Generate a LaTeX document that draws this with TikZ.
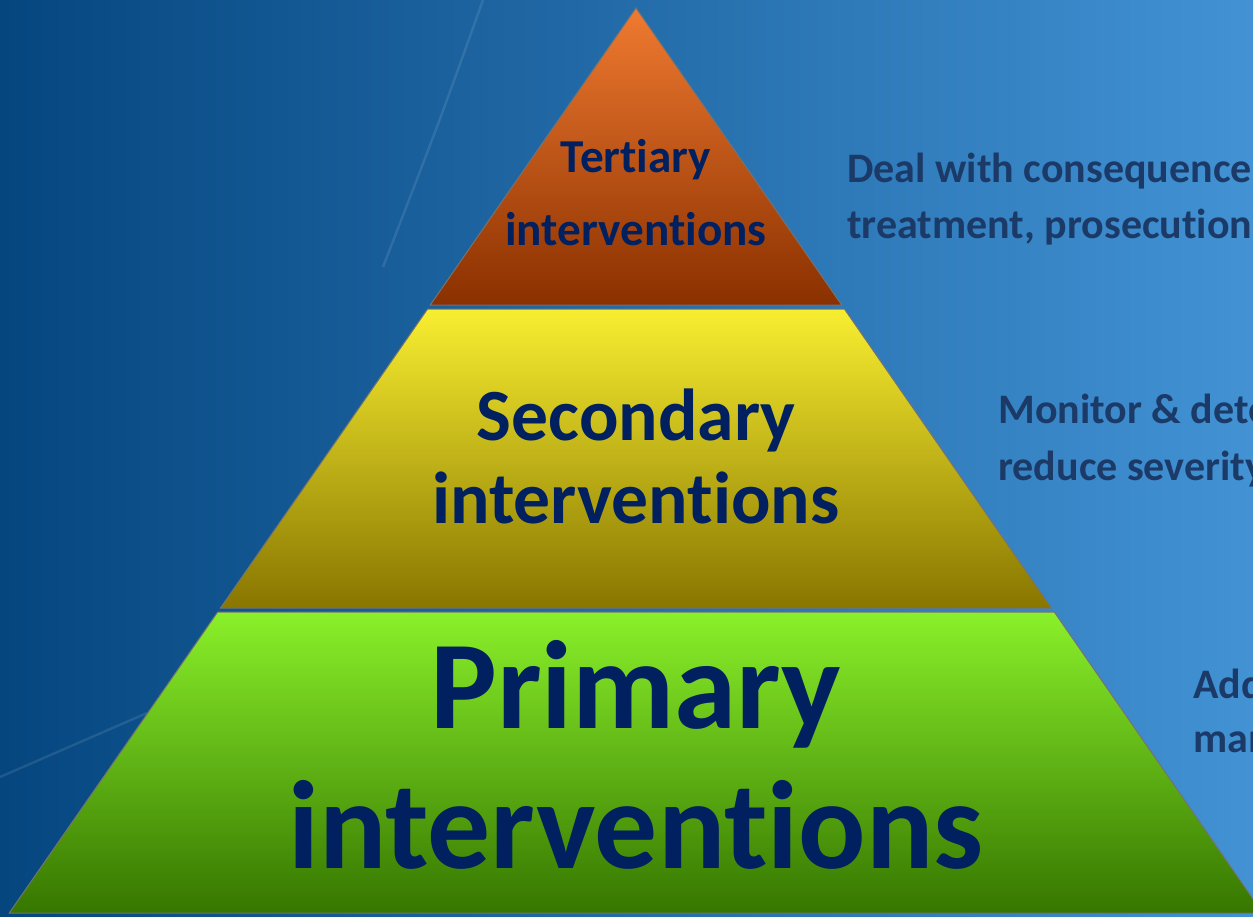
\documentclass[tikz,border=0pt]{standalone}
\usepackage{fontspec}
\setmainfont{Carlito}[Ligatures={NoCommon,NoRequired,NoContextual}]
\usepackage{xcolor}
\definecolor{bgdark}{HTML}{05467F}
\definecolor{bgmid}{HTML}{125C9E}
\definecolor{bglight}{HTML}{4292D4}
\definecolor{tertTop}{HTML}{F07A30}
\definecolor{tertBot}{HTML}{8A3000}
\definecolor{secTop}{HTML}{F8EE30}
\definecolor{secBot}{HTML}{887600}
\definecolor{primTop}{HTML}{8AF02A}
\definecolor{primBot}{HTML}{367600}
\definecolor{tiertext}{HTML}{002060}
\definecolor{sidetext}{HTML}{1B3A68}

\begin{document}
\begin{tikzpicture}[x=0.5pt,y=-0.5pt,
    tier/.style = {draw=black!55,line width=0.5pt},
    tierlabel/.style = {text=tiertext,align=center,anchor=base,inner sep=0pt},
    side/.style = {text=sidetext,align=left,anchor=base west,inner sep=0pt},
    streak/.style = {white,opacity=0.1,line width=1.2pt}]
      \useasboundingbox (0,0) rectangle (1253,916);
      \clip (0,0) rectangle (1253,916);
      \fill[left color=bgdark,middle color=bgmid,right color=bglight] (0,0) rectangle (1253,916);
      \draw[streak] (483,0) .. controls (440,120) .. (383,267);
      \draw[streak] (0,777) -- (147,713);

      \coordinate (apex) at (636,8);
      \path[tier,top color=tertTop,bottom color=tertBot] (apex) -- (841.7,305) -- (430.3,305) -- cycle;
      \path[tier,top color=secTop,bottom color=secBot] (427.6,309) -- (844.4,309) -- (1051.5,608) -- (220.5,608) -- cycle;
      \path[tier,top color=primTop,bottom color=primBot] (217.7,612) -- (1054.3,612) -- (1262.7,913) -- (9.3,913) -- cycle;

      \node[tierlabel,font={\fontsize{23.6}{36.5}\selectfont\bfseries}] (tert) at (636,245) {Tertiary\\interventions};
      \node[tierlabel,font={\fontsize{36.8}{41.5}\selectfont\bfseries}] (sec) at (636,523) {Secondary\\interventions};
      \node[tierlabel,font={\fontsize{62.8}{70}\selectfont\bfseries}] (prim) at (636,868) {Primary\\interventions};

      \node[side,font={\fontsize{21}{28}\selectfont\bfseries}] (tertside) at (847,238) {Deal with consequence\\treatment, prosecution};
      \node[side,font={\fontsize{21}{28.5}\selectfont\bfseries}] (secside) at (998,480) {Monitor \& dete\\reduce severity};
      \node[side,font={\fontsize{21}{27}\selectfont\bfseries}] (primside) at (1193,752) {Add\\man};
    \end{tikzpicture}
\end{document}
